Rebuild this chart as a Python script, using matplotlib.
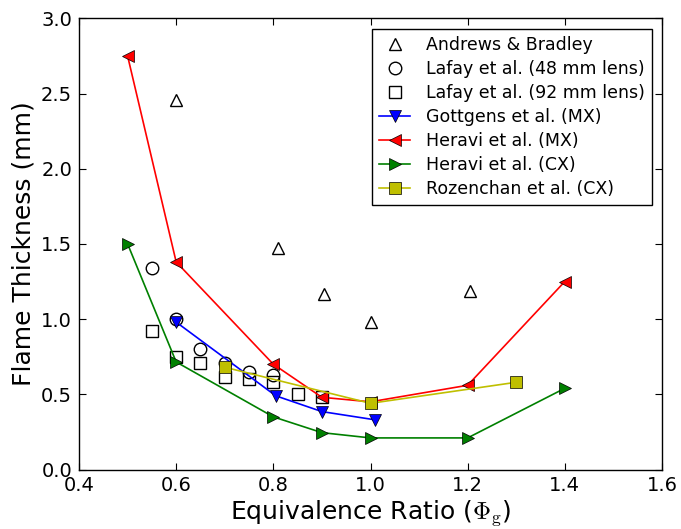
import matplotlib
matplotlib.use("Agg")
import matplotlib.pyplot as plt

plt.rcParams['font.family'] = ['DejaVu Sans']
plt.rcParams['mathtext.fontset'] = 'cm'
plt.rcParams['xtick.direction'] = 'in'
plt.rcParams['ytick.direction'] = 'in'

# Andrews & Bradley
ab_x = [0.60, 0.81, 0.905, 1.00, 1.205]
ab_y = [2.46, 1.47, 1.17, 0.98, 1.19]
# Lafay et al. (48 mm lens)
l48_x = [0.55, 0.60, 0.65, 0.70, 0.75, 0.80]
l48_y = [1.34, 1.00, 0.80, 0.71, 0.65, 0.63]
# Lafay et al. (92 mm lens)
l92_x = [0.55, 0.60, 0.65, 0.70, 0.75, 0.80, 0.85, 0.90]
l92_y = [0.92, 0.75, 0.71, 0.615, 0.60, 0.585, 0.50, 0.48]
# Gottgens et al. (MX)
got_x = [0.60, 0.805, 0.90, 1.01]
got_y = [0.98, 0.49, 0.385, 0.33]
# Heravi et al. (MX)
hmx_x = [0.50, 0.60, 0.80, 0.90, 1.00, 1.20, 1.40]
hmx_y = [2.75, 1.38, 0.70, 0.48, 0.45, 0.56, 1.25]
# Heravi et al. (CX)
hcx_x = [0.50, 0.60, 0.80, 0.90, 1.00, 1.20, 1.40]
hcx_y = [1.50, 0.715, 0.35, 0.245, 0.21, 0.21, 0.54]
# Rozenchan et al. (CX)
roz_x = [0.70, 1.00, 1.30]
roz_y = [0.68, 0.44, 0.58]

fig = plt.figure(figsize=(6.81, 5.29), dpi=100)
ax = fig.add_axes([79/681, 1-469.5/529, (662-79)/681, (469.5-18.3)/529])

ms = 9
ax.plot(ab_x, ab_y, linestyle='none', marker='^', ms=ms, mfc='none', mec='k', mew=1.0,
        label='Andrews & Bradley')
ax.plot(l48_x, l48_y, linestyle='none', marker='o', ms=ms, mfc='none', mec='k', mew=1.0,
        label='Lafay et al. (48 mm lens)')
ax.plot(l92_x, l92_y, linestyle='none', marker='s', ms=ms, mfc='none', mec='k', mew=1.0,
        label='Lafay et al. (92 mm lens)')
ax.plot(got_x, got_y, color='b', lw=1.2, marker='v', ms=ms, mfc='b', mec='k', mew=0.5,
        label='Gottgens et al. (MX)')
ax.plot(hmx_x, hmx_y, color='r', lw=1.2, marker='<', ms=ms, mfc='r', mec='k', mew=0.5,
        label='Heravi et al. (MX)')
ax.plot(hcx_x, hcx_y, color='g', lw=1.2, marker='>', ms=ms, mfc='g', mec='k', mew=0.5,
        label='Heravi et al. (CX)')
ax.plot(roz_x, roz_y, color='y', lw=1.2, marker='s', ms=ms, mfc='y', mec='k', mew=0.5,
        label='Rozenchan et al. (CX)')

ax.set_xlim(0.4, 1.6)
ax.set_ylim(0.0, 3.0)
ax.set_xticks([0.4, 0.6, 0.8, 1.0, 1.2, 1.4, 1.6])
ax.set_yticks([0.0, 0.5, 1.0, 1.5, 2.0, 2.5, 3.0])
ax.tick_params(top=True, right=True, labelsize=14, length=5, width=0.8, pad=5)
for s in ax.spines.values():
    s.set_linewidth(1.0)

ax.set_xlabel(r'Equivalence Ratio ($\Phi_{\mathrm{g}}$)', fontsize=18, labelpad=2)
ax.set_ylabel('Flame Thickness (mm)', fontsize=18, labelpad=4)

leg = ax.legend(loc='upper right', numpoints=1, fontsize=12.5, fancybox=False,
                framealpha=1, edgecolor='k', borderaxespad=0.6, handlelength=1.8,
                handletextpad=0.9, labelspacing=0.35)
leg.get_frame().set_linewidth(1.0)

fig.savefig('out.png', dpi=100, facecolor='white')
